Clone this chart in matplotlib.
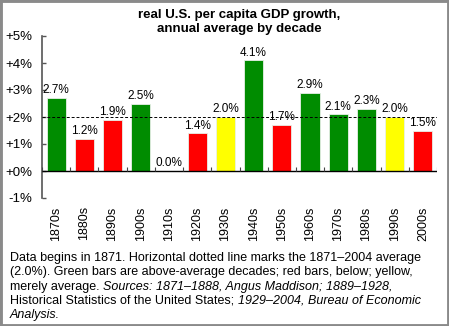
import numpy as np
import matplotlib
matplotlib.use("Agg")
import matplotlib.pyplot as plt
from matplotlib.patches import Rectangle

decades = ["1870s", "1880s", "1890s", "1900s", "1910s", "1920s", "1930s",
           "1940s", "1950s", "1960s", "1970s", "1980s", "1990s", "2000s"]
growth = [2.7, 1.2, 1.9, 2.5, 0.0, 1.4, 2.0, 4.1, 1.7, 2.9, 2.1, 2.3, 2.0, 1.5]
long_run_avg = 2.0
y_ticks = [-1, 0, 1, 2, 3, 4, 5]
y_labels = ["-1%", "+0%", "+1%", "+2%", "+3%", "+4%", "+5%"]

GREEN = "#008c00"
RED = "#ff0000"
YELLOW = "#ffff00"

plt.rcParams["font.family"] = ["Liberation Sans", "DejaVu Sans"]


def bar_color(v):
    if v > long_run_avg:
        return GREEN
    if v < long_run_avg:
        return RED
    return YELLOW


fig = plt.figure(figsize=(4.49, 3.26), dpi=100)
fig.patch.set_facecolor("white")
fig.patches.append(Rectangle((0, 0), 1, 1, transform=fig.transFigure,
                             fill=False, edgecolor="#8a8a8a", linewidth=3.5))

ax = fig.add_axes([42 / 449, 128 / 326, 395 / 449, 162 / 326])
x = np.arange(len(decades))
colors = [bar_color(v) for v in growth]
ax.bar(x, growth, width=0.68, color=colors, edgecolor="#e8f0e8", linewidth=0.6,
       zorder=2)

# value labels above each bar
for xi, v in zip(x, growth):
    ax.text(xi, v + 0.06, f"{v:.1f}%", ha="center", va="bottom",
            fontsize=8.5, zorder=4)

# long-run average and zero line
ax.axhline(long_run_avg, color="black", linewidth=0.7,
           linestyle=(0, (3, 2)), zorder=3)
ax.axhline(0, color="black", linewidth=1.0, zorder=3)
bounds = np.arange(len(decades) + 1) - 0.5
ax.vlines(bounds, 0, 0.13, color="#444444", linewidth=0.8, zorder=3)

ax.set_xlim(-0.5, len(decades) - 0.5)
ax.set_ylim(-1, 5)
ax.set_yticks(y_ticks)
ax.set_yticklabels(y_labels, fontsize=9.5)
ax.set_xticks(x)
ax.set_xticklabels(decades, rotation=90, fontsize=9)
ax.tick_params(axis="x", length=0, pad=6)
ax.tick_params(axis="y", direction="in", length=3, color="#555555",
               width=1, pad=7)
for side in ["top", "right", "bottom"]:
    ax.spines[side].set_visible(False)
ax.spines["left"].set_color("#555555")
ax.spines["left"].set_linewidth(1.2)

fig.text(239 / 449, 1 - 22 / 326, "real U.S. per capita GDP growth,\nannual average by decade",
         ha="center", va="center", fontsize=9.5, fontweight="bold",
         linespacing=1.15)

# caption, with italic source names
cap_size = 9
lines = [
    [("Data begins in 1871. Horizontal dotted line marks the 1871\u20132004 average", "normal")],
    [("(2.0%). Green bars are above-average decades; red bars, below; yellow,", "normal")],
    [("merely average. ", "normal"),
     ("Sources: 1871\u20131888, Angus Maddison; 1889\u20131928,", "italic")],
    [("Historical Statistics of the United States; ", "normal"),
     ("1929\u20132004, Bureau of Economic", "italic")],
    [("Analysis.", "italic")],
]
baselines = [261, 275.3, 289.6, 303.9, 318.2]
for parts, yb in zip(lines, baselines):
    prev = fig.text(10 / 449, 1 - yb / 326, parts[0][0], ha="left",
                    va="baseline", fontsize=cap_size, style=parts[0][1])
    for txt, style in parts[1:]:
        prev = fig.add_artist(matplotlib.text.Annotation(
            txt, xy=(1, 0), xycoords=prev, ha="left", va="bottom",
            fontsize=cap_size, style=style))

plt.savefig("out.png", dpi=100)
